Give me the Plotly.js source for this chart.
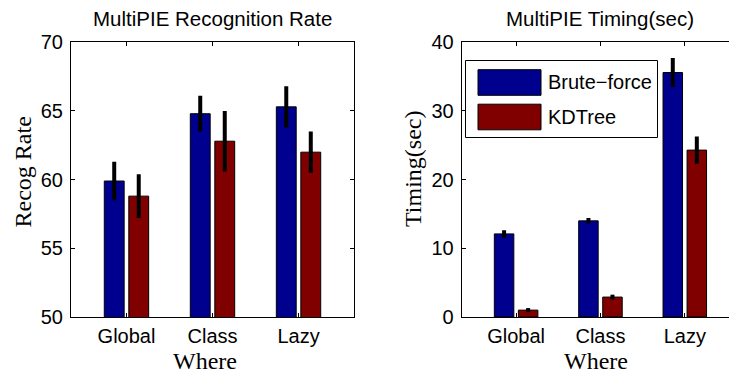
<!DOCTYPE html>
<html>
<head>
<meta charset="utf-8">
<script src="https://cdn.plot.ly/plotly-3.0.1.min.js"></script>
<style>
  html, body { margin: 0; padding: 0; overflow: hidden; background: #fff; }
  #chart { width: 740px; height: 375px; }
</style>
</head>
<body>
<div id="chart"></div>
<script>
// Where the nearest-neighbour search is run
const where = ['Global', 'Class', 'Lazy'];
const methods = ['Brute\u2212force', 'KDTree'];
const methodColors = ['#00008f', '#800000'];

// Recognition rate (%) with its spread
const recogBrute = [59.9, 64.8, 65.3];
const recogBruteErr = [1.4, 1.3, 1.5];
const recogKD = [58.8, 62.8, 62.0];
const recogKDErr = [1.6, 2.2, 1.5];

// Timing (sec) with its spread
const timeBrute = [12.1, 14.0, 35.6];
const timeBruteErr = [0.55, 0.4, 2.1];
const timeKD = [1.0, 2.9, 24.3];
const timeKDErr = [0.3, 0.35, 2.0];

const recogTicks = [50, 55, 60, 65, 70];
const timeTicks = [0, 10, 20, 30, 40];

const W = 740, H = 375;
const px = v => v / W;          // pixel column -> paper x
const py = v => 1 - v / H;      // pixel row -> paper y

const sans = 'Liberation Sans, Arial, Helvetica, sans-serif';
const serif = 'Liberation Serif, Times New Roman, serif';

function barTrace(y, err, idx, xa, ya) {
  return {
    type: 'bar', x: where, y: y, name: methods[idx],
    xaxis: xa, yaxis: ya,
    width: 0.231, offset: idx === 0 ? -0.258 : 0.027,
    marker: { color: methodColors[idx], line: { color: '#000', width: 1 } },
    error_y: { type: 'data', array: err, visible: true, color: '#000', thickness: 4, width: 0 },
    showlegend: false, hoverinfo: 'skip'
  };
}

const data = [
  barTrace(recogBrute, recogBruteErr, 0, 'x', 'y'),
  barTrace(recogKD, recogKDErr, 1, 'x', 'y'),
  barTrace(timeBrute, timeBruteErr, 0, 'x2', 'y2'),
  barTrace(timeKD, timeKDErr, 1, 'x2', 'y2')
];

const axisBase = {
  showline: true, linecolor: '#000', linewidth: 1, mirror: 'ticks',
  ticks: 'inside', ticklen: 4, tickwidth: 1, tickcolor: '#000',
  showgrid: false, zeroline: false, fixedrange: true,
  tickfont: { family: sans, size: 20, color: '#000' }
};
const yDomain = [py(317), py(42.3)];

const layout = {
  width: W, height: H,
  margin: { l: 0, r: 0, t: 0, b: 0 },
  paper_bgcolor: '#fff', plot_bgcolor: '#fff',
  barmode: 'overlay', showlegend: false,
  xaxis: Object.assign({}, axisBase, {
    type: 'category', categoryorder: 'array', categoryarray: where,
    range: [-0.645, 2.645], domain: [px(71), px(354)], anchor: 'y',
    ticklabelstandoff: 1
  }),
  yaxis: Object.assign({}, axisBase, {
    range: [50, 70], tickvals: recogTicks, domain: yDomain, anchor: 'x',
    ticklabelstandoff: 3
  }),
  xaxis2: Object.assign({}, axisBase, {
    type: 'category', categoryorder: 'array', categoryarray: where,
    range: [-0.645, 2.645], domain: [px(461.7), px(739.2)], anchor: 'y2',
    ticklabelstandoff: 1
  }),
  yaxis2: Object.assign({}, axisBase, {
    range: [0, 40], tickvals: timeTicks, domain: yDomain, anchor: 'x2',
    ticklabelstandoff: 3
  }),
  annotations: [],
  shapes: []
};

const ann = layout.annotations;
// panel titles
ann.push({ text: 'MultiPIE Recognition Rate', xref: 'paper', yref: 'paper', x: px(212), y: py(19),
  xanchor: 'center', yanchor: 'middle', showarrow: false, font: { family: sans, size: 20.5, color: '#000' } });
ann.push({ text: 'MultiPIE Timing(sec)', xref: 'paper', yref: 'paper', x: px(600), y: py(19),
  xanchor: 'center', yanchor: 'middle', showarrow: false, font: { family: sans, size: 20.5, color: '#000' } });
// axis titles
ann.push({ text: 'Where', xref: 'paper', yref: 'paper', x: px(205), y: 0, borderpad: 0,
  xanchor: 'center', yanchor: 'bottom', showarrow: false, font: { family: serif, size: 24, color: '#000' } });
ann.push({ text: 'Where', xref: 'paper', yref: 'paper', x: px(596), y: 0, borderpad: 0,
  xanchor: 'center', yanchor: 'bottom', showarrow: false, font: { family: serif, size: 24, color: '#000' } });
ann.push({ text: 'Recog Rate', xref: 'paper', yref: 'paper', x: px(22), y: py(172.5), textangle: -90,
  xanchor: 'center', yanchor: 'middle', showarrow: false, font: { family: serif, size: 24, color: '#000' } });
ann.push({ text: 'Timing(sec)', xref: 'paper', yref: 'paper', x: px(413), y: py(169), textangle: -90,
  xanchor: 'center', yanchor: 'middle', showarrow: false, font: { family: serif, size: 24, color: '#000' } });

// legend box for the timing panel
const shp = layout.shapes;
shp.push({ type: 'rect', xref: 'paper', yref: 'paper', layer: 'above',
  x0: px(465.5), x1: px(657.5), y0: py(137.5), y1: py(60.5),
  line: { color: '#000', width: 1 }, fillcolor: '#fff' });
const rows = [82.5, 117];
methods.forEach((m, i) => {
  shp.push({ type: 'rect', xref: 'paper', yref: 'paper', layer: 'above',
    x0: px(478), x1: px(541), y0: py(rows[i] + 12.8), y1: py(rows[i] - 12.8),
    line: { color: '#000', width: 1 }, fillcolor: methodColors[i] });
  ann.push({ text: m, xref: 'paper', yref: 'paper', x: px(546), y: py(rows[i]),
    xanchor: 'left', yanchor: 'middle', showarrow: false,
    font: { family: sans, size: 20, color: '#000' } });
});

Plotly.newPlot('chart', data, layout, { staticPlot: true, displayModeBar: false });
</script>
</body>
</html>
